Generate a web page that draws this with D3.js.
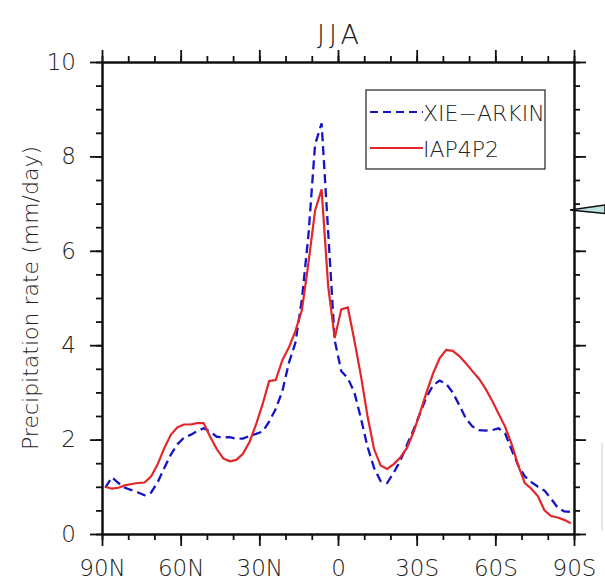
<!DOCTYPE html>
<html>
<head>
<meta charset="utf-8">
<script src="https://cdn.jsdelivr.net/npm/d3@7/dist/d3.min.js"></script>
<style>
  html, body { margin: 0; padding: 0; background: #fff; }
  svg { display: block; }
  text { font-family: "DejaVu Sans", sans-serif; font-weight: 200; fill: #222; }
</style>
</head>
<body>
<svg id="chart" width="605" height="583"></svg>
<script>
// Zonal-mean JJA precipitation (mm/day) on a 2.5-degree latitude grid, north to south
const lats = [
  88.75, 86.25, 83.75, 81.25, 78.75, 76.25, 73.75, 71.25, 68.75, 66.25,
  63.75, 61.25, 58.75, 56.25, 53.75, 51.25, 48.75, 46.25, 43.75, 41.25,
  38.75, 36.25, 33.75, 31.25, 28.75, 26.25, 23.75, 21.25, 18.75, 16.25,
  13.75, 11.25, 8.75, 6.25, 3.75, 1.25, -1.25, -3.75, -6.25, -8.75,
  -11.25, -13.75, -16.25, -18.75, -21.25, -23.75, -26.25, -28.75, -31.25, -33.75,
  -36.25, -38.75, -41.25, -43.75, -46.25, -48.75, -51.25, -53.75, -56.25, -58.75,
  -61.25, -63.75, -66.25, -68.75, -71.25, -73.75, -76.25, -78.75, -81.25, -83.75,
  -86.25, -88.75
];

const xieArkin = [
  0.98, 1.20, 1.08, 0.98, 0.93, 0.88, 0.82, 0.88, 1.10, 1.40,
  1.68, 1.90, 2.04, 2.10, 2.18, 2.24, 2.17, 2.06, 2.05, 2.05,
  2.02, 2.02, 2.08, 2.12, 2.17, 2.38, 2.65, 3.02, 3.62, 4.05,
  4.98, 6.35, 8.25, 8.70, 6.40, 4.10, 3.45, 3.30, 3.00, 2.45,
  1.85, 1.40, 1.12, 1.08, 1.30, 1.55, 1.88, 2.20, 2.55, 2.90,
  3.15, 3.25, 3.18, 3.00, 2.73, 2.45, 2.28, 2.20, 2.19, 2.20,
  2.24, 2.13, 1.78, 1.45, 1.22, 1.10, 1.00, 0.92, 0.75, 0.56,
  0.48, 0.47
];

const iap4p2 = [
  1.00, 0.96, 0.98, 1.03, 1.06, 1.08, 1.09, 1.22, 1.48, 1.82,
  2.10, 2.26, 2.32, 2.32, 2.35, 2.35, 2.06, 1.80, 1.60, 1.54,
  1.57, 1.70, 1.95, 2.32, 2.75, 3.24, 3.26, 3.68, 3.95, 4.30,
  4.75, 5.75, 6.85, 7.30, 5.25, 4.15, 4.76, 4.80, 4.10, 3.35,
  2.50, 1.80, 1.45, 1.38, 1.48, 1.62, 1.82, 2.15, 2.56, 3.00,
  3.40, 3.72, 3.90, 3.88, 3.77, 3.62, 3.45, 3.29, 3.08, 2.83,
  2.55, 2.27, 1.90, 1.45, 1.08, 0.96, 0.80, 0.50, 0.38, 0.35,
  0.30, 0.23
];

const seriesNames = ["XIE\u2212ARKIN", "IAP4P2"];
const xTickValues = [90, 60, 30, 0, -30, -60, -90];
const xTickLabels = ["90N", "60N", "30N", "0", "30S", "60S", "90S"];
const yTickValues = [0, 2, 4, 6, 8, 10];
const titleText = "JJA";
const yLabelText = "Precipitation rate (mm/day)";

const svg = d3.select("#chart");
const plotL = 102, plotT = 62, plotW = 472, plotH = 472;
const plotR = plotL + plotW, plotB = plotT + plotH;

const x = d3.scaleLinear().domain([90, -90]).range([plotL, plotR]);
const y = d3.scaleLinear().domain([0, 10]).range([plotB, plotT]);

const xMinor = d3.range(90, -91, -10);
const yMinor = d3.range(0, 10.01, 0.5);

function styleAxis(g) {
  g.selectAll("path.domain").attr("stroke", "#111").attr("stroke-width", 2);
  g.selectAll(".tick line").attr("stroke", "#111").attr("stroke-width", 1.8);
}

// minor ticks on all four sides (outward)
[
  [d3.axisBottom(x).tickValues(xMinor), `translate(0,${plotB})`],
  [d3.axisTop(x).tickValues(xMinor), `translate(0,${plotT})`],
  [d3.axisLeft(y).tickValues(yMinor), `translate(${plotL},0)`],
  [d3.axisRight(y).tickValues(yMinor), `translate(${plotR},0)`]
].forEach(([ax, tr]) => {
  svg.append("g").attr("transform", tr)
    .call(ax.tickSize(6).tickSizeOuter(0).tickFormat(""))
    .call(styleAxis);
});

// major ticks; labels on bottom and left only
const xLabelOf = v => xTickLabels[xTickValues.indexOf(v)];
svg.append("g").attr("transform", `translate(0,${plotB})`)
  .call(d3.axisBottom(x).tickValues(xTickValues).tickSize(12).tickSizeOuter(0)
    .tickPadding(14).tickFormat(xLabelOf))
  .call(styleAxis)
  .call(g => g.selectAll("text").style("font-size", "23px").attr("fill", "#222"));

svg.append("g").attr("transform", `translate(0,${plotT})`)
  .call(d3.axisTop(x).tickValues(xTickValues).tickSize(12).tickSizeOuter(0).tickFormat(""))
  .call(styleAxis);

svg.append("g").attr("transform", `translate(${plotL},0)`)
  .call(d3.axisLeft(y).tickValues(yTickValues).tickSize(12).tickSizeOuter(0)
    .tickPadding(14).tickFormat(d3.format("d")))
  .call(styleAxis)
  .call(g => g.selectAll("text").style("font-size", "23px").attr("fill", "#222"));

svg.append("g").attr("transform", `translate(${plotR},0)`)
  .call(d3.axisRight(y).tickValues(yTickValues).tickSize(12).tickSizeOuter(0).tickFormat(""))
  .call(styleAxis);

// curves
const line = d3.line().x((d, i) => x(lats[i])).y(d => y(d));

svg.append("path").datum(xieArkin)
  .attr("fill", "none").attr("stroke", "#1414c4").attr("stroke-width", 2.3)
  .attr("stroke-dasharray", "9,5").attr("d", line);

svg.append("path").datum(iap4p2)
  .attr("fill", "none").attr("stroke", "#e2262a").attr("stroke-width", 2.2)
  .attr("d", line);

// legend
const lg = svg.append("g");
lg.append("rect").attr("x", 366).attr("y", 90).attr("width", 179).attr("height", 79)
  .attr("fill", "#fff").attr("stroke", "#333").attr("stroke-width", 1.3);
const legendItems = [
  { name: seriesNames[0], color: "#1414c4", dash: "8,5", cy: 112 },
  { name: seriesNames[1], color: "#e2262a", dash: null, cy: 148 }
];
legendItems.forEach(it => {
  lg.append("line").attr("x1", 370).attr("x2", 423).attr("y1", it.cy).attr("y2", it.cy)
    .attr("stroke", it.color).attr("stroke-width", 2.2)
    .attr("stroke-dasharray", it.dash);
  lg.append("text").attr("x", 423).attr("y", it.cy + 8.5)
    .style("font-size", "22px").text(it.name);
});

// title and y label
svg.append("text").attr("x", (plotL + plotR) / 2 + 2).attr("y", 44)
  .attr("text-anchor", "middle")
  .style("font-size", "27px").style("letter-spacing", "4px")
  .text(titleText);

svg.append("text")
  .attr("transform", `translate(38,${(plotT + plotB) / 2}) rotate(-90)`)
  .attr("text-anchor", "middle").style("font-size", "22px")
  .text(yLabelText);

// edge of the neighbouring panel on the right
svg.append("path")
  .attr("d", `M${plotR - 4},210 L605,205 L605,213.5 Z`)
  .attr("fill", "#bfe2e2").attr("stroke", "#111").attr("stroke-width", 1.5);
svg.append("line").attr("x1", 602).attr("x2", 602).attr("y1", 443).attr("y2", 530)
  .attr("stroke", "#dcdcdc").attr("stroke-width", 1.5);
</script>
</body>
</html>
